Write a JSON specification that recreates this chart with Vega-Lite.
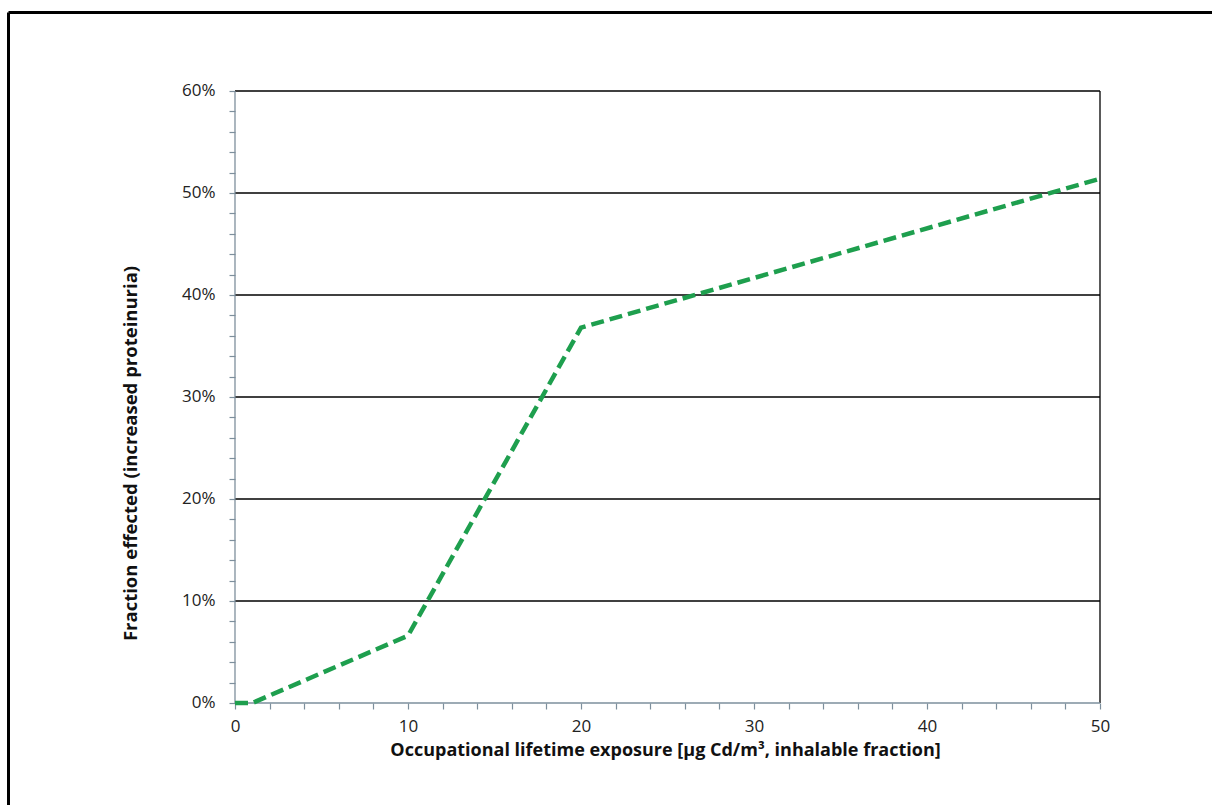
{
  "$schema": "https://vega.github.io/schema/vega-lite/v6.json",
  "width": 1204,
  "height": 793,
  "autosize": {"type": "none"},
  "padding": {"left": 8, "top": 12, "right": 0, "bottom": 0},
  "background": "white",
  "config": {
    "view": {"stroke": null},
    "font": "Open Sans",
    "axis": {"labelFont": "Open Sans", "titleFont": "Open Sans"}
  },
  "datasets": {
    "curve": [
      {"exposure": 0, "fraction": 0},
      {"exposure": 1, "fraction": 0},
      {"exposure": 10, "fraction": 0.066},
      {"exposure": 20, "fraction": 0.368},
      {"exposure": 50, "fraction": 0.514}
    ],
    "gridlines": [
      {"level": 0.1},
      {"level": 0.2},
      {"level": 0.3},
      {"level": 0.4},
      {"level": 0.5},
      {"level": 0.6}
    ],
    "single": [{}]
  },
  "resolve": {"axis": {"x": "independent", "y": "independent"}},
  "layer": [
    {
      "description": "Horizontal gridlines; this layer also carries the thick outer frame axes",
      "data": {"name": "gridlines"},
      "mark": {"type": "rule", "color": "#000000", "strokeWidth": 1.3},
      "encoding": {
        "x": {
          "datum": 0,
          "type": "quantitative",
          "axis": {
            "orient": "top",
            "offset": 0,
            "domain": true,
            "domainColor": "black",
            "domainWidth": 3,
            "ticks": false,
            "labels": false,
            "grid": false,
            "title": null
          }
        },
        "x2": {"datum": 50},
        "y": {
          "field": "level",
          "type": "quantitative",
          "axis": {
            "orient": "left",
            "offset": 0,
            "domain": true,
            "domainColor": "black",
            "domainWidth": 3,
            "ticks": false,
            "labels": false,
            "grid": false,
            "title": null
          }
        }
      }
    },
    {
      "description": "Right edge of the plot area",
      "data": {"name": "single"},
      "mark": {"type": "rule", "color": "#000000", "strokeWidth": 1.3},
      "encoding": {
        "x": {"datum": 50, "type": "quantitative", "axis": null},
        "y": {"datum": 0, "type": "quantitative", "axis": null},
        "y2": {"datum": 0.6}
      }
    },
    {
      "description": "Horizontal axis line",
      "data": {"name": "single"},
      "mark": {"type": "rule", "color": "#7d8f9c", "strokeWidth": 1.3},
      "encoding": {
        "x": {"datum": 0, "type": "quantitative", "axis": null},
        "x2": {"datum": 50},
        "y": {"datum": 0, "type": "quantitative", "axis": null}
      }
    },
    {
      "description": "Vertical axis line",
      "data": {"name": "single"},
      "mark": {"type": "rule", "color": "#7d8f9c", "strokeWidth": 1.3},
      "encoding": {
        "x": {"datum": 0, "type": "quantitative", "axis": null},
        "y": {"datum": 0, "type": "quantitative", "axis": null},
        "y2": {"datum": 0.6}
      }
    },
    {
      "description": "Dose-response curve",
      "data": {"name": "curve"},
      "mark": {
        "type": "line",
        "color": "#1e9f4e",
        "strokeWidth": 4.5,
        "strokeDash": [13, 6],
        "strokeCap": "butt"
      },
      "encoding": {
        "x": {
          "field": "exposure",
          "type": "quantitative",
          "scale": {"domain": [-13.121, 56.474], "nice": false, "zero": false},
          "axis": {
            "orient": "bottom",
            "offset": -102,
            "values": [0, 2, 4, 6, 8, 10, 12, 14, 16, 18, 20, 22, 24, 26, 28, 30, 32, 34, 36, 38, 40, 42, 44, 46, 48, 50],
            "labelExpr": "datum.value % 10 === 0 ? datum.label : ''",
            "format": "d",
            "domain": false,
            "grid": false,
            "ticks": true,
            "tickColor": "#7d8f9c",
            "tickSize": 6,
            "tickWidth": 1.2,
            "labelFontSize": 17,
            "labelColor": "#222222",
            "labelPadding": 9,
            "labelFlush": false,
            "labelOverlap": false,
            "title": "Occupational lifetime exposure [µg Cd/m³, inhalable fraction]",
            "titleFontSize": 18,
            "titleFontWeight": "bold",
            "titleColor": "#111111",
            "titleAnchor": "middle",
            "titleAlign": "center",
            "titleBaseline": "alphabetic",
            "titleX": 657,
            "titleY": 52
          }
        },
        "y": {
          "field": "fraction",
          "type": "quantitative",
          "scale": {"domain": [-0.1, 0.67745], "nice": false, "zero": false},
          "axis": {
            "orient": "left",
            "offset": -227,
            "values": [0, 0.02, 0.04, 0.06, 0.08, 0.1, 0.12, 0.14, 0.16, 0.18, 0.2, 0.22, 0.24, 0.26, 0.28, 0.3, 0.32, 0.34, 0.36, 0.38, 0.4, 0.42, 0.44, 0.46, 0.48, 0.5, 0.52, 0.54, 0.56, 0.58, 0.6],
            "labelExpr": "round(datum.value * 100) % 10 === 0 ? datum.label : ''",
            "format": ".0%",
            "domain": false,
            "grid": false,
            "ticks": true,
            "tickColor": "#7d8f9c",
            "tickSize": 6,
            "tickWidth": 1.2,
            "labelFontSize": 17,
            "labelColor": "#222222",
            "labelPadding": 14,
            "labelFlush": false,
            "labelOverlap": false,
            "title": "Fraction effected (increased proteinuria)",
            "titleFontSize": 18.5,
            "titleFontWeight": "bold",
            "titleColor": "#111111",
            "titleAngle": -90,
            "titleAlign": "center",
            "titleBaseline": "alphabetic",
            "titleX": -99,
            "titleY": 441
          }
        }
      }
    }
  ]
}
